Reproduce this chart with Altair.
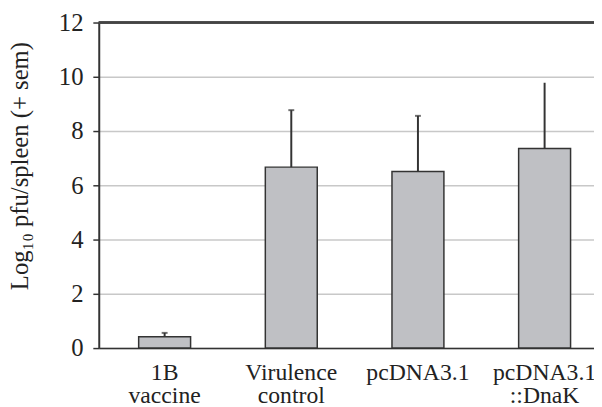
import altair as alt
import pandas as pd

categories = ["1B\nvaccine", "Virulence\ncontrol", "pcDNA3.1", "pcDNA3.1\n::DnaK"]
means = [0.42, 6.67, 6.51, 7.36]
err_tops = [0.56, 8.77, 8.56, 9.78]
has_cap = [True, True, True, False]
y_ticks = [0, 2, 4, 6, 8, 10, 12]

df = pd.DataFrame({"group": categories, "mean": means, "top": err_tops, "cap": has_cap})

FONT = "Liberation Serif"
DARK = "#333333"

x = alt.X(
    "group:N",
    sort=categories,
    scale=alt.Scale(paddingInner=0.59, paddingOuter=0.25, align=0.63),
    axis=alt.Axis(
        title=None, labelAngle=0, labelExpr="split(datum.label, '\\n')",
        ticks=False, domainColor=DARK, domainWidth=1.5,
        labelFont=FONT, labelFontSize=24, labelColor="#222222",
        labelLineHeight=23, labelPadding=13, labelBaseline="top",
    ),
)

y_axis = alt.Axis(
    title="Log₁₀ pfu/spleen (+ sem)", values=y_ticks, grid=True,
    gridColor="#c8c8c8", gridWidth=1.5,
    tickColor=DARK, tickSize=6, tickWidth=1.5,
    domainColor=DARK, domainWidth=2,
    labelFont=FONT, labelFontSize=25, labelColor="#222222", labelPadding=10,
    titleFont=FONT, titleFontSize=25, titleFontWeight="normal", titleColor="#222222",
    titleAngle=-90, titleX=-80, titleY=145, titleAlign="center", titleBaseline="middle",
)
y = alt.Y("mean:Q", scale=alt.Scale(domain=[0, 12], nice=False), axis=y_axis)

base = alt.Chart(df)

bars = base.mark_bar(color="#bfc0c4", stroke=DARK, strokeWidth=1.5).encode(x=x, y=y)
err = base.mark_rule(color=DARK, strokeWidth=2).encode(x=x, y="mean:Q", y2="top:Q")
caps = base.transform_filter("datum.cap").mark_tick(
    color=DARK, thickness=2, size=6
).encode(x=x, y="top:Q")
top_line = base.mark_rule(color="#444444", strokeWidth=2).encode(y=alt.datum(12))

chart = alt.layer(bars, err, caps, top_line).properties(
    width=502, height=330,
    autosize=alt.AutoSizeParams(type="none"),
    padding={"left": 92, "top": 12, "right": 0, "bottom": 57},
).configure_view(stroke=None).configure(background="white")

chart.save("out.html", embed_options={"renderer": "svg", "actions": False})
